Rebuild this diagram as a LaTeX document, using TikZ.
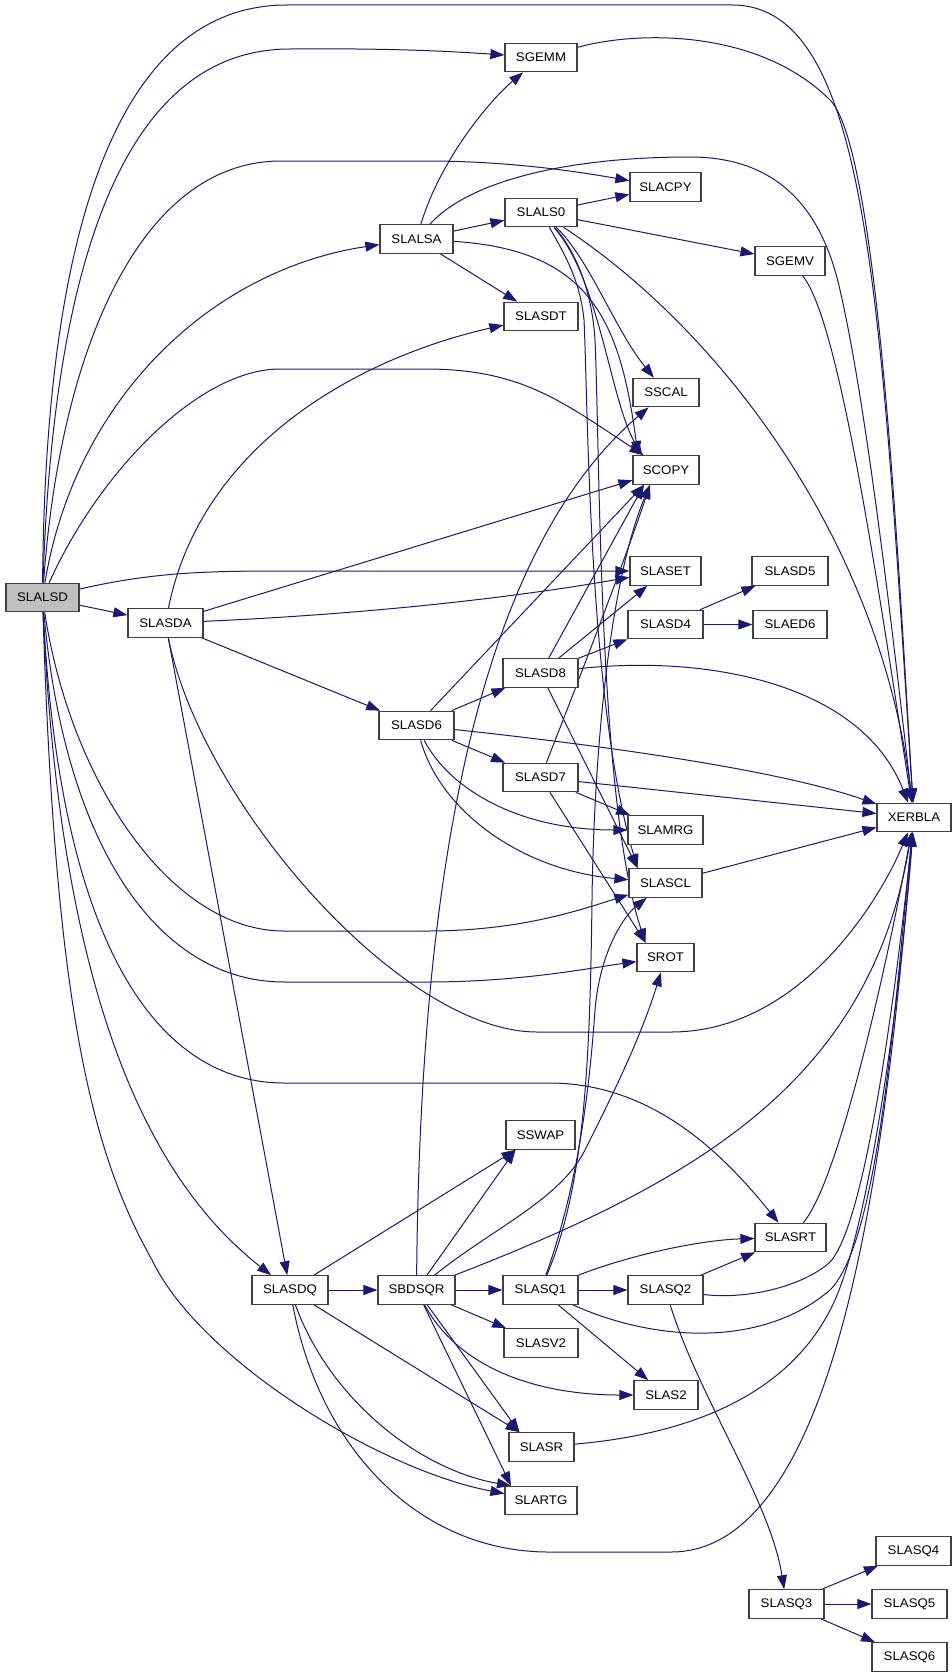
\documentclass[tikz,border=0pt]{standalone}
\usepackage{fontspec}
\setmainfont{Liberation Sans}[FakeStretch=1.06]
\usetikzlibrary{arrows.meta}
\definecolor{edgec}{HTML}{191970}
\pgfdeclarelayer{back}
\pgfdeclarelayer{bg}
\pgfsetlayers{back,bg,main}
\begin{document}
\begin{tikzpicture}[x=1pt,y=-1pt,
  nd/.style={draw=black!75, line width=1.2pt, fill=white, minimum height=28.5pt,
    inner sep=1pt, font=\fontsize{12.5}{14}\selectfont},
  e/.style={draw=edgec, line width=1pt, -{Triangle[length=14pt,width=10pt]}, fill=none}]
\useasboundingbox (0,0) rectangle (952,1678);
\begin{pgfonlayer}{back}
\fill[white] (0,0) rectangle (952,1678);
\end{pgfonlayer}
% nodes
\node[nd,fill=gray!50,minimum width=73] (slalsd) at (42.5,597.5) {SLALSD};
\node[nd,minimum width=75] (slasda) at (165.5,623) {SLASDA};
\node[nd,minimum width=72] (sgemm) at (541,57.5) {SGEMM};
\node[nd,minimum width=71] (slacpy) at (665.5,187) {SLACPY};
\node[nd,minimum width=72] (slals0) at (541,212.5) {SLALS0};
\node[nd,minimum width=73] (slalsa) at (416.5,239) {SLALSA};
\node[nd,minimum width=70] (sgemv) at (790,261) {SGEMV};
\node[nd,minimum width=74] (slasdt) at (541,316.5) {SLASDT};
\node[nd,minimum width=66] (sscal) at (666,392.5) {SSCAL};
\node[nd,minimum width=66] (scopy) at (666,470) {SCOPY};
\node[nd,minimum width=71] (slaset) at (665.5,571) {SLASET};
\node[nd,minimum width=76] (slasd5) at (790,571) {SLASD5};
\node[nd,minimum width=75] (slasd4) at (665.5,624.5) {SLASD4};
\node[nd,minimum width=74] (slaed6) at (790,624.5) {SLAED6};
\node[nd,minimum width=75] (slasd8) at (540.5,673) {SLASD8};
\node[nd,minimum width=75] (slasd6) at (416.5,725.5) {SLASD6};
\node[nd,minimum width=75] (slasd7) at (540.5,777.5) {SLASD7};
\node[nd,minimum width=74] (xerbla) at (914,817.5) {XERBLA};
\node[nd,minimum width=75] (slamrg) at (665.5,830) {SLAMRG};
\node[nd,minimum width=73] (slascl) at (665.5,883) {SLASCL};
\node[nd,minimum width=57] (srot) at (665.5,957.5) {SROT};
\node[nd,minimum width=69] (sswap) at (540.5,1135) {SSWAP};
\node[nd,minimum width=71] (slasrt) at (790.5,1237.5) {SLASRT};
\node[nd,minimum width=76] (slasdq) at (290,1290) {SLASDQ};
\node[nd,minimum width=77] (sbdsqr) at (416.5,1290) {SBDSQR};
\node[nd,minimum width=75] (slasq1) at (540.5,1290) {SLASQ1};
\node[nd,minimum width=75] (slasq2) at (665.5,1290) {SLASQ2};
\node[nd,minimum width=74] (slasv2) at (541,1343) {SLASV2};
\node[nd,minimum width=64] (slas2) at (666,1395) {SLAS2};
\node[nd,minimum width=65] (slasr) at (541.5,1447) {SLASR};
\node[nd,minimum width=72] (slartg) at (541,1500.5) {SLARTG};
\node[nd,minimum width=75] (slasq4) at (913.5,1551) {SLASQ4};
\node[nd,minimum width=75] (slasq3) at (786.5,1604) {SLASQ3};
\node[nd,minimum width=75] (slasq5) at (909.5,1604) {SLASQ5};
\node[nd,minimum width=75] (slasq6) at (909.5,1657) {SLASQ6};
% arrival points
\coordinate (scopyT) at ([xshift=-24pt]scopy.north);
\coordinate (scopyT2) at ([xshift=-28pt]scopy.north);
\coordinate (scopyB1) at ([xshift=-22pt]scopy.south);
\coordinate (scopyB2) at ([xshift=-16pt]scopy.south);
\coordinate (sclT) at ([xshift=-28pt]slascl.north);
\coordinate (srotT) at ([xshift=-20pt]srot.north);
\coordinate (slasrT) at ([xshift=-22pt]slasr.north);
\coordinate (slartgT) at ([xshift=-30pt]slartg.north);
\coordinate (sswapB) at ([xshift=-25pt]sswap.south);
\begin{pgfonlayer}{bg}
% SLALSD
\draw[e] (slalsd) .. controls (45,250) and (110,5) .. (287,5) -- (732,5) .. controls (870,5) and (880,300) .. (xerbla);
\draw[e] (slalsd) .. controls (52,300) and (110,49) .. (290,49) .. controls (400,48) and (460,52) .. (sgemm);
\draw[e] (slalsd) .. controls (60,350) and (140,161) .. (281,161) -- (427,161) .. controls (510,161) and (580,172) .. (slacpy);
\draw[e] (slalsd) .. controls (75,400) and (210,270) .. (slalsa);
\draw[e] (slalsd) .. controls (100,470) and (200,369) .. (280,369) -- (425,369) .. controls (520,369) and (560,400) .. (scopy);
\draw[e] (slalsd) .. controls (150,573) and (200,571) .. (280,571) -- (slaset);
\draw[e] (slalsd) -- (slasda);
\draw[e] (slalsd) .. controls (70,780) and (170,931) .. (284,931) -- (427,931) .. controls (520,931) and (580,910) .. (slascl);
\draw[e] (slalsd) .. controls (65,850) and (160,982) .. (284,982) -- (427,982) .. controls (520,982) and (590,968) .. (srot);
\draw[e] (slalsd) .. controls (60,950) and (160,1083) .. (284,1083) -- (549,1083) .. controls (650,1083) and (720,1150) .. (slasrt);
\draw[e] (slalsd) .. controls (60,1000) and (150,1180) .. (slasdq);
\draw[e] (slalsd) .. controls (55,1000) and (90,1150) .. (152,1260) .. controls (200,1360) and (380,1470) .. (slartg);
% SLASDA
\draw[e] (slasda) .. controls (200,450) and (350,360) .. (slasdt);
\draw[e] (slasda) -- (scopy);
\draw[e] (slasda) .. controls (350,615) and (500,600) .. (slaset);
\draw[e] (slasda) -- (slasd6);
\draw[e] (slasda) -- (slasdq);
\draw[e] (slasda) .. controls (200,800) and (400,1032) .. (537,1032) -- (671,1032) .. controls (800,1032) and (880,900) .. (xerbla);
% SLALSA
\draw[e] (slalsa) .. controls (440,160) and (490,100) .. (sgemm);
\draw[e] (slalsa) -- (slals0);
\draw[e] (slalsa) -- (slasdt);
\draw[e] (slalsa) .. controls (590,250) and (620,320) .. (scopyT2);
\draw[e] (slalsa) .. controls (470,180) and (570,157) .. (690,157) .. controls (770,157) and (820,200) .. (840,290) .. controls (870,420) and (900,700) .. (xerbla);
% SLALS0
\draw[e] (slals0) -- (slacpy);
\draw[e] (slals0) -- (sgemv);
\draw[e] (slals0) .. controls (590,260) and (615,330) .. (sscal);
\draw[e] (slals0) .. controls (600,280) and (610,400) .. (scopyT);
\draw[e] (slals0) .. controls (565,255) and (580,280) .. (584,320) .. controls (588,400) and (588,700) .. (sclT);
\draw[e] (slals0) .. controls (575,250) and (592,290) .. (595,340) .. controls (600,450) and (598,800) .. (srotT);
\draw[e] (slals0) .. controls (720,330) and (880,540) .. (xerbla);
% SGEMM, SGEMV
\draw[e] (sgemm) .. controls (640,30) and (760,30) .. (830,100) .. controls (880,150) and (900,600) .. (xerbla);
\draw[e] (sgemv) .. controls (840,320) and (880,600) .. (xerbla);
% SLASD6
\draw[e] (slasd6) -- (scopyB1);
\draw[e] (slasd6) -- (slasd8);
\draw[e] (slasd6) -- (slasd7);
\draw[e] (slasd6) .. controls (600,745) and (780,770) .. (xerbla);
\draw[e] (slasd6) .. controls (450,790) and (520,830) .. (slamrg);
\draw[e] (slasd6) .. controls (440,810) and (520,870) .. (slascl);
% SLASD8
\draw[e] (slasd8) -- (scopyB1);
\draw[e] (slasd8) -- (slaset);
\draw[e] (slasd8) -- (slasd4);
\draw[e] (slasd8) .. controls (700,655) and (860,680) .. (xerbla);
\draw[e] (slasd8) -- (sclT);
% SLASD7
\draw[e] (slasd7) .. controls (575,690) and (625,560) .. (scopyB2);
\draw[e] (slasd7) -- (slamrg);
\draw[e] (slasd7) -- (xerbla);
\draw[e] (slasd7) -- (srotT);
% SLASD4
\draw[e] (slasd4) -- (slasd5);
\draw[e] (slasd4) -- (slaed6);
% SLASCL
\draw[e] (slascl) -- (xerbla);
% SLASDQ
\draw[e] (slasdq) -- (sbdsqr);
\draw[e] (slasdq) -- (sswapB);
\draw[e] (slasdq) -- (slasrT);
\draw[e] (slasdq) .. controls (330,1400) and (420,1470) .. (slartgT);
\draw[e] (slasdq) .. controls (320,1450) and (420,1552) .. (549,1552) -- (671,1552) .. controls (850,1552) and (890,1100) .. (xerbla);
% SBDSQR
\draw[e] (sbdsqr) -- (slasq1);
\draw[e] (sbdsqr) -- (slasv2);
\draw[e] (sbdsqr) .. controls (460,1370) and (540,1395) .. (slas2);
\draw[e] (sbdsqr) -- (slasrT);
\draw[e] (sbdsqr) -- (slartgT);
\draw[e] (sbdsqr) -- (sswapB);
\draw[e] (sbdsqr) .. controls (420,900) and (470,560) .. (sscal);
\draw[e] (sbdsqr) .. controls (490,1230) and (560,1200) .. (585,1150) .. controls (610,1100) and (640,1040) .. (srot);
\draw[e] (sbdsqr) .. controls (700,1180) and (870,1080) .. (xerbla);
% SLASQ1
\draw[e] (slasq1) -- (slasq2);
\draw[e] (slasq1) .. controls (630,1255) and (700,1240) .. (slasrt);
\draw[e] (slasq1) .. controls (650,1340) and (760,1350) .. (830,1290) .. controls (880,1240) and (895,1000) .. (xerbla);
\draw[e] (slasq1) -- (slas2);
\draw[e] (slasq1) .. controls (580,1180) and (590,1080) .. (595,1010) .. controls (600,950) and (625,915) .. (slascl);
\draw[e] (slasq1) .. controls (585,1185) and (590,1060) .. (592,900) .. controls (594,750) and (610,580) .. (scopyB2);
% SLASQ2
\draw[e] (slasq2) -- (slasrt);
\draw[e] (slasq2) .. controls (750,1300) and (805,1285) .. (830,1262) .. controls (865,1225) and (895,1000) .. (xerbla);
\draw[e] (slasq2) .. controls (700,1400) and (770,1500) .. (slasq3);
% SLASRT, SLASR
\draw[e] (slasrt) .. controls (840,1180) and (890,950) .. (xerbla);
\draw[e] (slasr) .. controls (680,1435) and (790,1400) .. (835,1300) .. controls (870,1220) and (900,1000) .. (xerbla);
% SLASQ3
\draw[e] (slasq3) -- (slasq4);
\draw[e] (slasq3) -- (slasq5);
\draw[e] (slasq3) -- (slasq6);
\end{pgfonlayer}
\end{tikzpicture}
\end{document}
